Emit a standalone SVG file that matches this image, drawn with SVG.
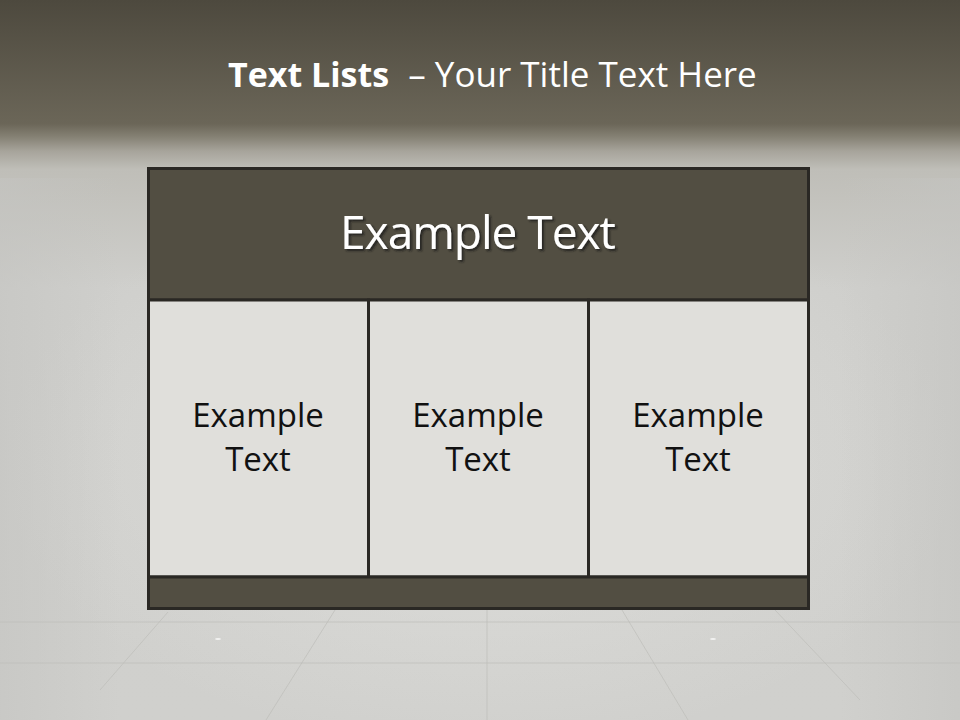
<svg xmlns="http://www.w3.org/2000/svg" width="960" height="720" viewBox="0 0 960 720">
<defs>
<linearGradient id="bg" x1="0" y1="0" x2="0" y2="1">
<stop offset="0" stop-color="#4d493e"/>
<stop offset="0.172" stop-color="#6b6658"/>
<stop offset="0.19" stop-color="#858174"/>
<stop offset="0.21" stop-color="#a7a49b"/>
<stop offset="0.235" stop-color="#bfbeb8"/>
<stop offset="0.4" stop-color="#cfcfcc"/>
<stop offset="1" stop-color="#d0d0cd"/>
</linearGradient>
<radialGradient id="glow" cx="0.5" cy="0.55" r="0.5">
<stop offset="0" stop-color="#e2e2df" stop-opacity="0.8"/>
<stop offset="1" stop-color="#e2e2df" stop-opacity="0"/>
</radialGradient>
<linearGradient id="sideL" x1="0" y1="0" x2="1" y2="0">
<stop offset="0" stop-color="#c4c4c1" stop-opacity="0.6"/>
<stop offset="1" stop-color="#c4c4c1" stop-opacity="0"/>
</linearGradient>
<filter id="sh" x="-10%" y="-30%" width="120%" height="160%">
<feDropShadow dx="2" dy="2" stdDeviation="1" flood-color="#1e1c17" flood-opacity="0.8"/>
</filter>
</defs>
<style>
.ttl{font-family:"Open Sans","Liberation Sans",sans-serif;fill:#ffffff;font-size:34px}
.hd{fill:#524e42;stroke:#2a2824;stroke-width:3}
.cell{fill:#e0dfdb;stroke:#2a2824;stroke-width:3}
.ht{font-family:"Open Sans","Liberation Sans",sans-serif;fill:#ffffff;font-size:46px;text-anchor:middle}
.ct{font-family:"Open Sans","Liberation Sans",sans-serif;fill:#111111;font-size:33px;text-anchor:middle}
.floor{stroke:#bdbdb9;stroke-width:1;fill:none;opacity:0.7}
</style>
<rect x="0" y="0" width="960" height="720" fill="url(#bg)"/>
<rect x="0" y="150" width="960" height="570" fill="url(#glow)"/>
<rect x="0" y="178" width="120" height="542" fill="url(#sideL)"/>
<rect x="840" y="178" width="120" height="542" fill="url(#sideL)" transform="translate(1800 0) scale(-1 1)"/>
<g id="floor">
<line class="floor" x1="0" y1="622" x2="960" y2="622"/>
<line class="floor" x1="0" y1="663" x2="960" y2="663"/>
<line class="floor" x1="487" y1="610" x2="487" y2="720"/>
<line class="floor" x1="335" y1="610" x2="266" y2="720"/>
<line class="floor" x1="622" y1="610" x2="688" y2="720"/>
<line class="floor" x1="168" y1="612" x2="100" y2="690"/>
<line class="floor" x1="775" y1="610" x2="860" y2="700"/>
<ellipse cx="218" cy="639" rx="3" ry="1" fill="#ffffff" opacity="0.7"/>
<ellipse cx="713" cy="639" rx="3" ry="1" fill="#ffffff" opacity="0.7"/>
</g>
<g id="title">
<text class="ttl" x="228" y="87"><tspan font-weight="bold">Text Lists</tspan><tspan dx="10" font-size="35"> – Your Title Text Here</tspan></text>
</g>
<g id="header">
<rect class="hd" x="148.5" y="168.5" width="660" height="131.5"/>
<text class="ht" x="478" y="249" filter="url(#sh)" textLength="276">Example Text</text>
</g>
<g id="cell1">
<rect class="cell" x="148.5" y="300" width="220" height="277"/>
<text class="ct" x="258" y="427">Example</text>
<text class="ct" x="258" y="471">Text</text>
</g>
<g id="cell2">
<rect class="cell" x="368.5" y="300" width="220" height="277"/>
<text class="ct" x="478" y="427">Example</text>
<text class="ct" x="478" y="471">Text</text>
</g>
<g id="cell3">
<rect class="cell" x="588.5" y="300" width="220" height="277"/>
<text class="ct" x="698" y="427">Example</text>
<text class="ct" x="698" y="471">Text</text>
</g>
<g id="footer">
<rect class="hd" x="148.5" y="577" width="660" height="31.5"/>
</g>
<g id="connectors"/>
</svg>
